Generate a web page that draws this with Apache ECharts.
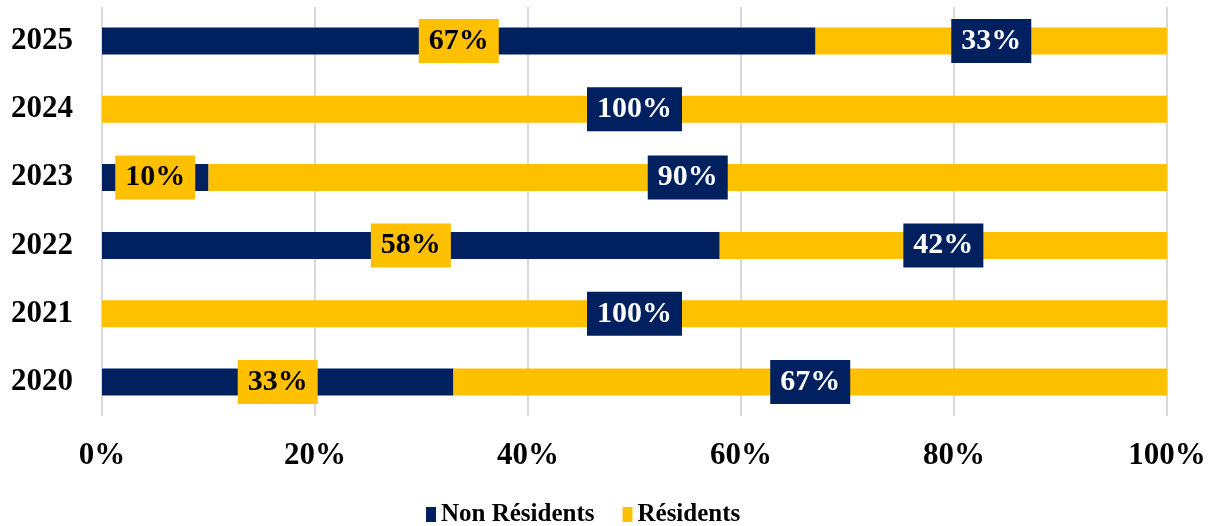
<!DOCTYPE html>
<html>
<head>
<meta charset="utf-8">
<script src="https://cdn.jsdelivr.net/npm/echarts@6/dist/echarts.min.js"></script>
<style>
  html, body { margin: 0; padding: 0; background: #fff; }
  #chart { width: 1215px; height: 526px; }
</style>
</head>
<body>
<div id="chart"></div>
<script>
const years = ['2020', '2021', '2022', '2023', '2024', '2025']
const nonResidents = [33, 0, 58, 10, 0, 67]
const residents = [67, 100, 42, 90, 100, 33]
const xTicks = [0, 20, 40, 60, 80, 100]

const navy = '#002060'
const gold = '#FFC000'
const serif = '"Liberation Serif", "Times New Roman", serif'

// hide labels for empty segments
function withLabels(values) {
  return values.map(v => ({ value: v, label: { show: v > 0 } }))
}

function labelStyle(bg, fg) {
  return {
    show: true,
    position: 'inside',
    formatter: '{c}%',
    color: fg,
    backgroundColor: bg,
    fontFamily: serif,
    fontWeight: 'bold',
    fontSize: 30,
    lineHeight: 30,
    padding: [7, 10]
  }
}

const chart = echarts.init(document.getElementById('chart'))
chart.setOption({
  animation: false,
  grid: { left: 102, right: 48, top: 7, bottom: 110 },
  legend: {
    left: 421,
    top: 497,
    itemWidth: 10,
    itemHeight: 15,
    itemGap: 28,
    icon: 'rect',
    textStyle: { fontFamily: serif, fontWeight: 'bold', fontSize: 25, color: '#000' },
    data: ['Non Résidents', 'Résidents']
  },
  xAxis: {
    type: 'value',
    min: xTicks[0],
    max: xTicks[xTicks.length - 1],
    interval: 20,
    axisLine: { show: false },
    axisTick: { show: false },
    splitLine: { lineStyle: { color: '#d9d9d9', width: 2 } },
    axisLabel: {
      formatter: '{value}%',
      margin: 24,
      fontFamily: serif,
      fontWeight: 'bold',
      fontSize: 31,
      color: '#000'
    }
  },
  yAxis: {
    type: 'category',
    data: years,
    axisLine: { show: false },
    axisTick: { show: false },
    axisLabel: {
      margin: 29,
      fontFamily: serif,
      fontWeight: 'bold',
      fontSize: 31,
      color: '#000'
    }
  },
  series: [
    {
      name: 'Non Résidents',
      type: 'bar',
      stack: 'total',
      barWidth: 27,
      itemStyle: { color: navy },
      label: labelStyle(gold, '#000'),
      data: withLabels(nonResidents)
    },
    {
      name: 'Résidents',
      type: 'bar',
      stack: 'total',
      barWidth: 27,
      itemStyle: { color: gold },
      label: labelStyle(navy, '#fff'),
      data: withLabels(residents)
    }
  ]
})
</script>
</body>
</html>
